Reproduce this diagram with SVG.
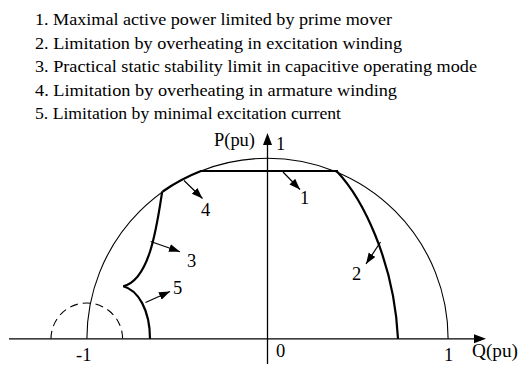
<svg xmlns="http://www.w3.org/2000/svg" width="519" height="365" viewBox="0 0 519 365">
<style>
text{font-family:"Liberation Serif","Times New Roman","DejaVu Serif",serif;fill:#000}
.leg{font-size:17px}
.lbl{font-size:18.5px}
.thin{fill:none;stroke:#000;stroke-width:1.1}
.thick{fill:none;stroke:#000;stroke-width:2.2}
.ax{fill:none;stroke:#000;stroke-width:1.3}
.arr{fill:none;stroke:#000;stroke-width:1.2;marker-end:url(#ah)}
.dash{fill:none;stroke:#000;stroke-width:1.1;stroke-dasharray:8 5}
</style>
<defs>
<marker id="ah" markerUnits="userSpaceOnUse" markerWidth="12" markerHeight="9" refX="11" refY="4" orient="auto">
<path d="M0,0 L11,4 L0,8 z" fill="#000"/>
</marker>
</defs>
<g id="legend">
<text class="leg" x="35" y="25" textLength="357" lengthAdjust="spacingAndGlyphs">1. Maximal active power limited by prime mover</text>
<text class="leg" x="35" y="48.5" textLength="367" lengthAdjust="spacingAndGlyphs">2. Limitation by overheating in excitation winding</text>
<text class="leg" x="35" y="72" textLength="442" lengthAdjust="spacingAndGlyphs">3. Practical static stability limit in capacitive operating mode</text>
<text class="leg" x="35" y="95.5" textLength="362" lengthAdjust="spacingAndGlyphs">4. Limitation by overheating in armature winding</text>
<text class="leg" x="35" y="119" textLength="306" lengthAdjust="spacingAndGlyphs">5. Limitation by minimal excitation current</text>
</g>
<g id="axes">
<line class="ax" x1="9" y1="338.8" x2="476" y2="338.8"/>
<path d="M486,338.8 L474,334.3 L474,343.3 z" fill="#000"/>
<line class="ax" x1="267.5" y1="364" x2="267.5" y2="144"/>
<path d="M267.5,133 L263,145 L272,145 z" fill="#000"/>
<text class="lbl" x="214" y="146" textLength="41" lengthAdjust="spacingAndGlyphs">P(pu)</text>
<text class="lbl" x="276" y="150">1</text>
<text class="lbl" x="472" y="357" textLength="46" lengthAdjust="spacingAndGlyphs">Q(pu)</text>
<text class="lbl" x="444" y="361">1</text>
<text class="lbl" x="276" y="357">0</text>
<text class="lbl" x="76" y="361">-1</text>
</g>
<g id="circle">
<path class="thin" d="M86.9,338.8 A180.6,180.6 0 0 1 448.1,338.8"/>
</g>
<g id="dashed-circle">
<path class="dash" d="M51,338.8 A35.8,35.8 0 0 1 122.6,338.8"/>
</g>
<g id="limit1">
<line class="thick" x1="200" y1="171" x2="338" y2="171"/>
</g>
<g id="limit2">
<path class="thick" d="M337,171.5 C362,198 394,260 398,338.8"/>
</g>
<g id="limit4">
<path class="thick" d="M162.7,191.5 A180.6,180.6 0 0 1 201,171"/>
</g>
<g id="limit3">
<path class="thick" d="M162.2,191.5 C157,225 150,280 123.3,286.2"/>
</g>
<g id="limit5">
<path class="thick" d="M123.3,286.2 C138,290 150,310 150,338.8"/>
</g>
<g id="connectors">
<line class="arr" x1="283" y1="172" x2="300" y2="189.5"/>
<line class="arr" x1="380.5" y1="242" x2="366" y2="264"/>
<line class="arr" x1="184" y1="180.5" x2="202.5" y2="198.5"/>
<line class="arr" x1="150.7" y1="241.5" x2="180" y2="251.7"/>
<line class="arr" x1="145.5" y1="302.5" x2="170" y2="291.5"/>
</g>
<g id="labels">
<text class="lbl" x="300" y="204">1</text>
<text class="lbl" x="352" y="279.5">2</text>
<text class="lbl" x="201" y="215.5">4</text>
<text class="lbl" x="187" y="266.5">3</text>
<text class="lbl" x="173" y="294">5</text>
</g>
</svg>
